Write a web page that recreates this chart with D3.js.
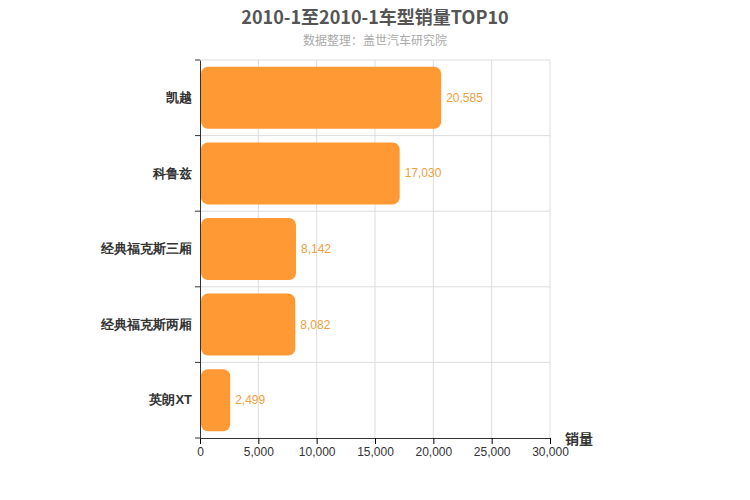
<!DOCTYPE html>
<html><head><meta charset="utf-8">
<script src="https://cdn.jsdelivr.net/npm/d3@7"></script>
<style>body{margin:0;font-family:"Noto Sans CJK SC",sans-serif;}</style>
</head><body><svg id="c" width="750" height="500"></svg>
<script>
const categories = ['凯越', '科鲁兹', '经典福克斯三厢', '经典福克斯两厢', '英朗XT'];
const sales = [20585, 17030, 8142, 8082, 2499];
const xTicks = [0, 5000, 10000, 15000, 20000, 25000, 30000];

const svg = d3.select('#c');
const plotL = 200, plotR = 550, plotT = 60, plotB = 438;
const x = d3.scaleLinear().domain([0, 30000]).range([plotL, plotR]);
const y = d3.scaleBand().domain(categories).range([plotT, plotB]).paddingInner(0.18).paddingOuter(0.09);
const band = d3.scaleBand().domain(categories).range([plotT, plotB]);

svg.append('text').attr('x', 375).attr('y', 24).attr('text-anchor', 'middle')
  .attr('font-size', 18).attr('font-weight', 'bold').attr('fill', '#555').text('2010-1至2010-1车型销量TOP10');
svg.append('text').attr('x', 375).attr('y', 45).attr('text-anchor', 'middle')
  .attr('font-size', 12).attr('fill', '#aaa').text('数据整理：盖世汽车研究院');

// grid
svg.selectAll('.vg').data(xTicks.slice(1)).join('line')
  .attr('x1', d => x(d)).attr('x2', d => x(d)).attr('y1', plotT).attr('y2', plotB).attr('stroke', '#ddd');
svg.selectAll('.hg').data(categories).join('line')
  .attr('x1', plotL).attr('x2', plotR).attr('y1', d => band(d)).attr('y2', d => band(d)).attr('stroke', '#ddd');

// x axis
const xa = svg.append('g').attr('transform', `translate(0,${plotB})`)
  .call(d3.axisBottom(x).tickValues(xTicks).tickFormat(d3.format(',')).tickSizeOuter(0));
xa.select('.domain').attr('stroke', '#333');
xa.selectAll('text').attr('font-size', 12).attr('fill', '#333').attr('font-family', 'Arial, sans-serif');

// y axis
const ya = svg.append('g').attr('transform', `translate(${plotL},0)`)
  .call(d3.axisLeft(band).tickSizeOuter(0).tickSize(0).tickPadding(8));
ya.select('.domain').attr('stroke', '#333');
ya.selectAll('text').attr('font-size', 13).attr('font-weight', 'bold').attr('fill', '#333');
const yEdges = categories.map(d => band(d)).concat([plotB]);
svg.selectAll('.yt').data(yEdges).join('line')
  .attr('x1', plotL - 5).attr('x2', plotL).attr('y1', d => d).attr('y2', d => d).attr('stroke', '#333');

svg.append('text').attr('x', 565).attr('y', 444).attr('font-size', 14).attr('font-weight', 'bold')
  .attr('fill', '#333').text('销量');

// bars
svg.selectAll('.bar').data(sales).join('rect')
  .attr('x', x(0) + 1).attr('y', (d, i) => y(categories[i]))
  .attr('width', d => x(d) - x(0)).attr('height', y.bandwidth())
  .attr('rx', 7).attr('fill', '#ff9933');
svg.selectAll('.lbl').data(sales).join('text')
  .attr('x', d => x(d) + 6).attr('y', (d, i) => y(categories[i]) + y.bandwidth() / 2 + 4)
  .attr('font-size', 12).attr('fill', '#f0a040').attr('font-family', 'Arial, sans-serif')
  .text(d => d3.format(',')(d));
</script></body></html>
